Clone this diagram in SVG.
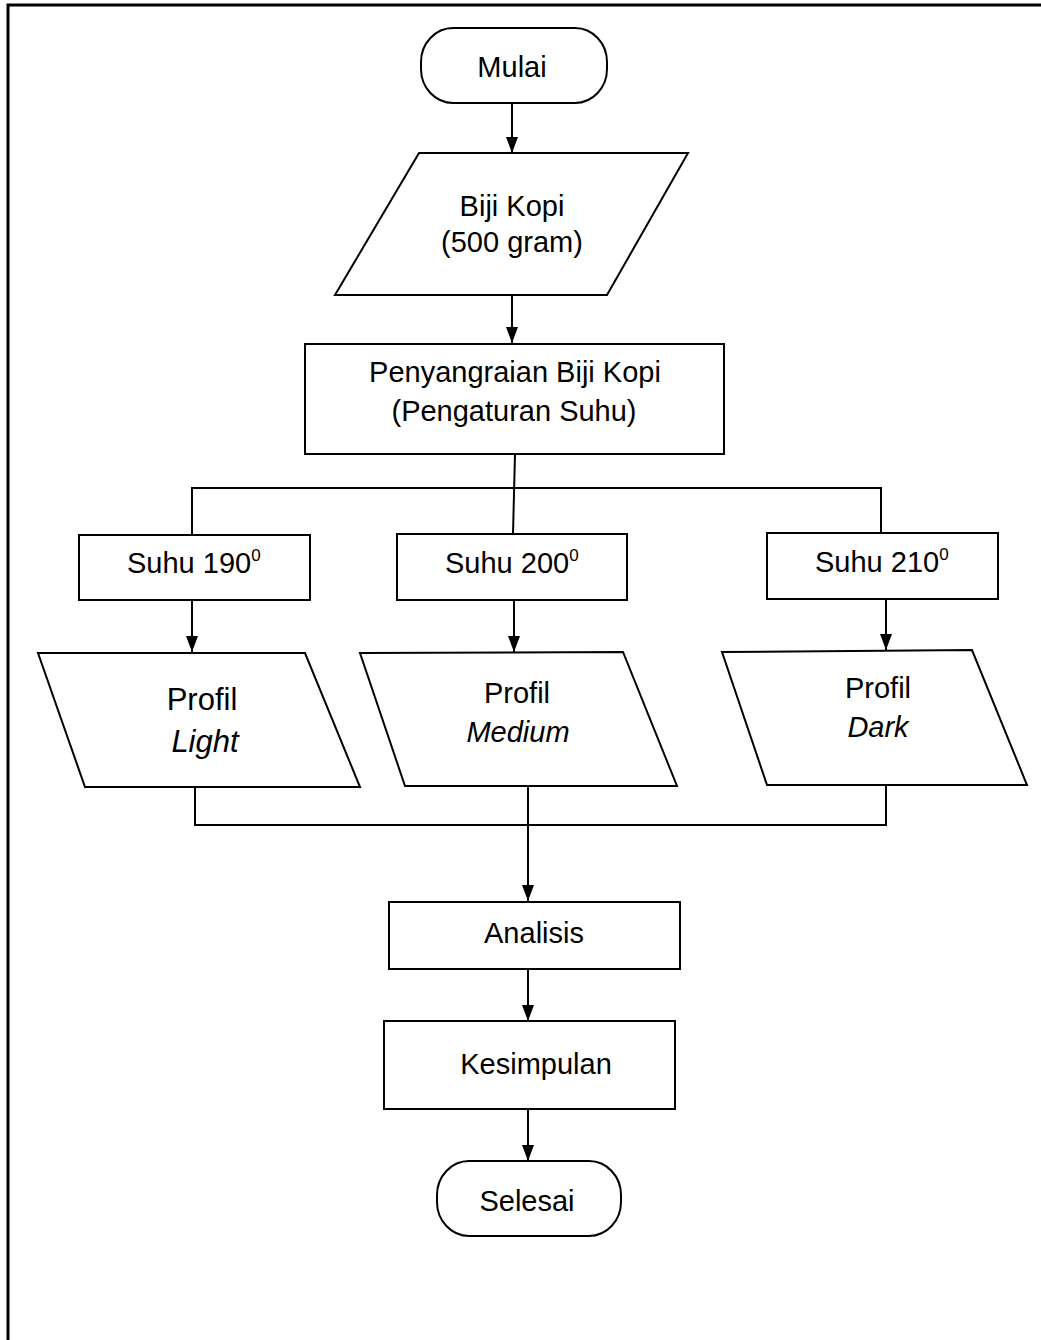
<svg xmlns="http://www.w3.org/2000/svg" width="1041" height="1340" viewBox="0 0 1041 1340">
<style>
  .shape { fill: #ffffff; stroke: #000000; stroke-width: 2; }
  .conn { fill: none; stroke: #000000; stroke-width: 2; }
  .t { font-family: "Liberation Sans", Arial, sans-serif; font-size: 29px; fill: #000000; text-anchor: middle; }
  .it { font-style: italic; }
  .big { font-size: 31px; }
  .sup { font-size: 17px; }
</style>
<defs>
  <marker id="arrow" viewBox="0 0 16 12" refX="16" refY="6" markerWidth="16" markerHeight="12" markerUnits="userSpaceOnUse" orient="auto">
    <path d="M0,0 L16,6 L0,12 z" fill="#000000"/>
  </marker>
</defs>
<rect width="1041" height="1340" fill="#ffffff"/>
<rect x="8" y="5" width="1045" height="1350" fill="none" stroke="#000000" stroke-width="3"/>

<g id="connectors">
  <path class="conn" d="M512,103 V153" marker-end="url(#arrow)"/>
  <path class="conn" d="M512,295 V343" marker-end="url(#arrow)"/>
  <path class="conn" d="M515,454 L513,534"/>
  <path class="conn" d="M192,535 V488 H881 V533"/>
  <path class="conn" d="M192,600 V652" marker-end="url(#arrow)"/>
  <path class="conn" d="M514,600 V652" marker-end="url(#arrow)"/>
  <path class="conn" d="M886,599 V650" marker-end="url(#arrow)"/>
  <path class="conn" d="M195,787 V825 H886 V785"/>
  <path class="conn" d="M528,786 V901" marker-end="url(#arrow)"/>
  <path class="conn" d="M528,969 V1021" marker-end="url(#arrow)"/>
  <path class="conn" d="M528,1109 V1161" marker-end="url(#arrow)"/>
</g>

<g id="mulai">
  <rect class="shape" x="421" y="28" width="186" height="75" rx="32" ry="34"/>
  <text class="t" x="512" y="77">Mulai</text>
</g>

<g id="biji-kopi">
  <polygon class="shape" points="419,153 688,153 607,295 335,295"/>
  <text class="t" x="512" y="216">Biji Kopi</text>
  <text class="t" x="512" y="252">(500 gram)</text>
</g>

<g id="penyangraian">
  <rect class="shape" x="305" y="344" width="419" height="110"/>
  <text class="t" x="515" y="382">Penyangraian Biji Kopi</text>
  <text class="t" x="514" y="421">(Pengaturan Suhu)</text>
</g>

<g id="suhu-190">
  <rect class="shape" x="79" y="535" width="231" height="65"/>
  <text class="t" x="127" y="573" style="text-anchor:start">Suhu 190<tspan class="sup" dy="-12">0</tspan></text>
</g>

<g id="suhu-200">
  <rect class="shape" x="397" y="534" width="230" height="66"/>
  <text class="t" x="445" y="573" style="text-anchor:start">Suhu 200<tspan class="sup" dy="-12">0</tspan></text>
</g>

<g id="suhu-210">
  <rect class="shape" x="767" y="533" width="231" height="66"/>
  <text class="t" x="815" y="572" style="text-anchor:start">Suhu 210<tspan class="sup" dy="-12">0</tspan></text>
</g>

<g id="profil-light">
  <polygon class="shape" points="38,653 305,653 360,787 85,787"/>
  <text class="t big" x="202" y="710">Profil</text>
  <text class="t it big" x="205" y="752">Light</text>
</g>

<g id="profil-medium">
  <polygon class="shape" points="360,653 623,652 677,786 405,786"/>
  <text class="t" x="517" y="703">Profil</text>
  <text class="t it" x="518" y="742">Medium</text>
</g>

<g id="profil-dark">
  <polygon class="shape" points="722,652 972,650 1027,785 767,785"/>
  <text class="t" x="878" y="698">Profil</text>
  <text class="t it" x="878" y="737">Dark</text>
</g>

<g id="analisis">
  <rect class="shape" x="389" y="902" width="291" height="67"/>
  <text class="t" x="534" y="943">Analisis</text>
</g>

<g id="kesimpulan">
  <rect class="shape" x="384" y="1021" width="291" height="88"/>
  <text class="t" x="536" y="1074">Kesimpulan</text>
</g>

<g id="selesai">
  <rect class="shape" x="437" y="1161" width="184" height="75" rx="32" ry="34"/>
  <text class="t" x="527" y="1211">Selesai</text>
</g>
</svg>
